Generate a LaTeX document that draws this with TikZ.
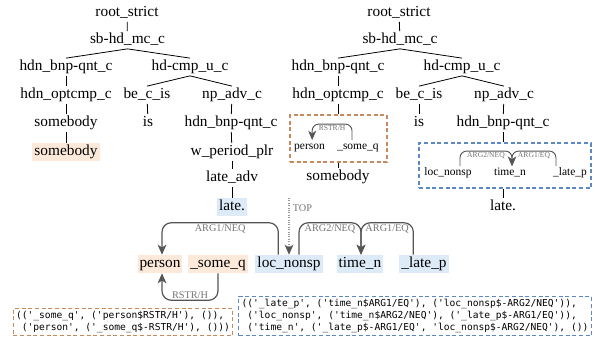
\documentclass[tikz,border=0pt]{standalone}
\usepackage{fontspec}
\setmainfont{Liberation Serif}
\setmonofont{DejaVu Sans Mono}
\usetikzlibrary{arrows.meta, fit}

\definecolor{peach}{RGB}{252,233,218}
\definecolor{paleblue}{RGB}{221,234,248}
\definecolor{boxorange}{RGB}{200,138,92}
\definecolor{boxblue}{RGB}{92,136,196}
\definecolor{relgray}{RGB}{85,85,85}
\definecolor{labgray}{RGB}{115,115,115}

\tikzset{
  tnode/.style={inner sep=1.2pt, text height=8pt, text depth=2.5pt, font=\fontsize{11.5}{13}\selectfont},
  snode/.style={inner sep=1pt, text height=6pt, text depth=2pt, font=\fontsize{8.6}{10}\selectfont},
  orghl/.style={fill=peach, inner xsep=1.5pt, inner ysep=1.5pt},
  bluhl/.style={fill=paleblue, inner xsep=1.5pt, inner ysep=1.5pt},
  rel/.style={draw=relgray, line width=0.9pt, rounded corners=7pt, -{Stealth[length=7.5pt,width=6.5pt,inset=2pt]}},
  smallrel/.style={rel, line width=0.7pt, rounded corners=5pt, -{Stealth[length=7pt,width=6pt,inset=2pt]}},
  toprel/.style={draw=relgray!60, line width=0.8pt, densely dotted, -{Stealth[length=7.5pt,width=6.5pt,inset=2pt,color=relgray]}},
  rellab/.style={text=labgray, font=\fontsize{7.7}{9}\selectfont, inner sep=1pt},
  smalllab/.style={text=labgray, font=\fontsize{5.7}{7}\selectfont, inner sep=0.5pt},
  obox/.style={draw=boxorange, dash pattern=on 3pt off 2pt, line width=0.8pt, inner sep=0pt},
  bbox/.style={draw=boxblue, dash pattern=on 3pt off 2pt, line width=0.8pt, inner sep=0pt},
  codebox/.style={inner sep=2pt, align=left, font=\fontsize{7.2}{9.2}\selectfont\ttfamily},
}

\begin{document}
\begin{tikzpicture}[x=0.75pt,y=0.75pt,yscale=-1]
        \useasboundingbox (0,0) rectangle (595,342);

        % Left tree
        \node[tnode] (lroot) at (127,13) {root\_strict};
        \node[tnode] (lsb) at (127.5,40) {sb-hd\_mc\_c};
        \node[tnode] (lbnp) at (66,67) {hdn\_bnp-qnt\_c};
        \node[tnode] (lcmp) at (190,67) {hd-cmp\_u\_c};
        \node[tnode] (lopt) at (66,95) {hdn\_optcmp\_c};
        \node[tnode] (lbe) at (147,95) {be\_c\_is};
        \node[tnode] (lnpadv) at (232,95) {np\_adv\_c};
        \node[tnode] (lsome) at (66,123) {somebody};
        \node[tnode] (lis) at (148,123) {is};
        \node[tnode] (lbnpb) at (231,123) {hdn\_bnp-qnt\_c};
        \node[tnode, orghl] (lword) at (66,152) {somebody};
        \node[tnode] (lwper) at (232,152) {w\_period\_plr};
        \node[tnode] (llate) at (232,178) {late\_adv};
        \node[tnode, bluhl] (lwlate) at (232,207) {late.};

        \draw[line width=0.6pt] (lroot) -- (lsb);
        \draw[line width=0.6pt] (lsb.south) -- (lbnp.north);
        \draw[line width=0.6pt] (lsb.south) -- (lcmp.north);
        \draw[line width=0.6pt] (lbnp) -- (lopt);
        \draw[line width=0.6pt] (lcmp.south) -- (lbe.north);
        \draw[line width=0.6pt] (lcmp.south) -- (lnpadv.north);
        \draw[line width=0.6pt] (lopt) -- (lsome);
        \draw[line width=0.6pt] (lbe) -- (lis);
        \draw[line width=0.6pt] (lnpadv) -- (lbnpb);
        \draw[line width=0.6pt] (lsome) -- (lword);
        \draw[line width=0.6pt] (lbnpb) -- (lwper);
        \draw[line width=0.6pt] (lwper) -- (llate);
        \draw[line width=0.6pt] (llate) -- (lwlate);

        % Right tree
        \node[tnode] (rroot) at (399,13) {root\_strict};
        \node[tnode] (rsb) at (400,40) {sb-hd\_mc\_c};
        \node[tnode] (rbnp) at (338,67) {hdn\_bnp-qnt\_c};
        \node[tnode] (rcmp) at (462,67) {hd-cmp\_u\_c};
        \node[tnode] (ropt) at (338,95) {hdn\_optcmp\_c};
        \node[tnode] (rbe) at (419,95) {be\_c\_is};
        \node[tnode] (rnpadv) at (504,95) {np\_adv\_c};
        \node[tnode] (ris) at (419,123) {is};
        \node[tnode] (rbnpb) at (503,123) {hdn\_bnp-qnt\_c};
        \node[tnode] (rsome) at (338,177) {somebody};
        \node[tnode] (rlate) at (503,207) {late.};

        %Shape: orange sub-graph box
        \node[obox, fit={(290,115)(387,162)}] (rbox) {};
        \node[snode] (rpers) at (309.5,147) {person};
        \node[snode] (rsomeq) at (358,147) {\_some\_q};
        \draw[smallrel] ([xshift=-4.5pt]rsomeq.north) -- ++(0,-16) -| ([xshift=2pt]rpers.north)
            node[smalllab, pos=0.25, below] {RSTR/H};

        %Shape: blue sub-graph box
        \node[bbox, fit={(419,143)(591,188)}] (bbox) {};
        \node[snode] (rloc) at (448,173) {loc\_nonsp};
        \node[snode] (rtime) at (510,173) {time\_n};
        \node[snode] (rlatep) at (570,173) {\_late\_p};
        \draw[smallrel] ([xshift=9pt]rloc.north) -- ++(0,-15) -| ([xshift=1.5pt]rtime.north)
            node[smalllab, pos=0.25, below] {ARG2/NEQ};
        \draw[smallrel] ([xshift=-10.5pt]rlatep.north) -- ++(0,-15) -| ([xshift=1.5pt]rtime.north)
            node[smalllab, pos=0.25, below] {ARG1/EQ};

        \draw[line width=0.6pt] (rroot) -- (rsb);
        \draw[line width=0.6pt] (rsb.south) -- (rbnp.north);
        \draw[line width=0.6pt] (rsb.south) -- (rcmp.north);
        \draw[line width=0.6pt] (rbnp) -- (ropt);
        \draw[line width=0.6pt] (rcmp.south) -- (rbe.north);
        \draw[line width=0.6pt] (rcmp.south) -- (rnpadv.north);
        \draw[line width=0.6pt] (rbe) -- (ris);
        \draw[line width=0.6pt] (rnpadv) -- (rbnpb);
        \draw[line width=0.6pt] (ropt.south) -- (ropt.south |- rbox.north);
        \draw[line width=0.6pt] (rsome.north |- rbox.south) -- (rsome.north);
        \draw[line width=0.6pt] (rbnpb.south) -- (rbnpb.south |- bbox.north);
        \draw[line width=0.6pt] (rlate.north |- bbox.south) -- (rlate.north);

        % Bottom graph
        \node[tnode, orghl] (gpers) at (160,264) {person};
        \node[tnode, orghl] (gsomeq) at (218,264) {\_some\_q};
        \node[tnode, bluhl] (gloc) at (289,264) {loc\_nonsp};
        \node[tnode, bluhl] (gtime) at (360,264) {time\_n};
        \node[tnode, bluhl] (glatep) at (424,264) {\_late\_p};
        \coordinate (gtop) at (289,198);

        \draw[rel] ([xshift=-8pt]gloc.north) -- ++(0,-32) -| ([xshift=1.5pt]gpers.north)
            node[rellab, pos=0.25, below] {ARG1/NEQ};
        \draw[rel] (gsomeq.south) -- ++(0,27) -| ([xshift=1.5pt]gpers.south)
            node[rellab, pos=0.25, above] {RSTR/H};
        \draw[toprel] (gtop) -- (gloc.north)
            node[rellab, pos=0.18, right, xshift=1.5pt] {TOP};
        \draw[rel] ([xshift=7.5pt]gloc.north) -- ++(0,-32) -| ([xshift=0.75pt]gtime.north)
            node[rellab, pos=0.25, below] {ARG2/NEQ};
        \draw[rel] ([xshift=-8pt]glatep.north) -- ++(0,-32) -| ([xshift=0.75pt]gtime.north)
            node[rellab, pos=0.25, below] {ARG1/EQ};

        % Code Nodes
        \node[codebox, obox, inner sep=2pt] (ocode) at (123,322)
            {(('\_some\_q', ('person\$RSTR/H'), ()),\\
             \hphantom{(}('person', ('\_some\_q\$-RSTR/H'), ()))};
        \node[codebox, bbox, inner sep=2pt] (bcode) at (415,316)
            {(('\_late\_p', ('time\_n\$ARG1/EQ'), ('loc\_nonsp\$-ARG2/NEQ')),\\
             \hphantom{(}('loc\_nonsp', ('time\_n\$ARG2/NEQ'), ('\_late\_p\$-ARG1/EQ')),\\
             \hphantom{(}('time\_n', ('\_late\_p\$-ARG1/EQ', 'loc\_nonsp\$-ARG2/NEQ'), ())};

\end{tikzpicture}
\end{document}
